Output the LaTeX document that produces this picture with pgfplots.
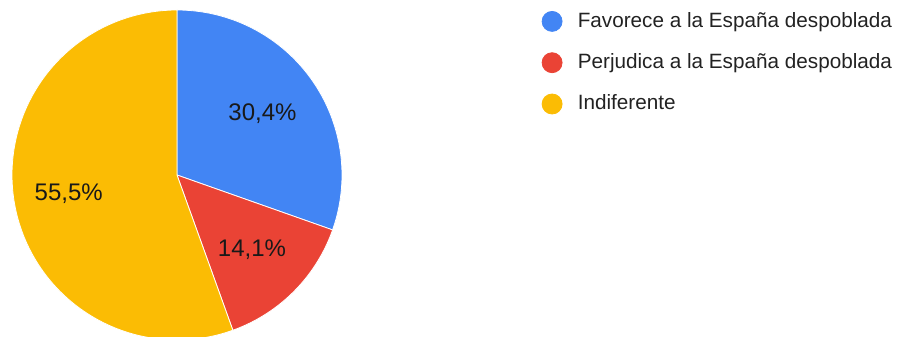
\documentclass[border=0pt]{standalone}
\usepackage{pgfplots}
\pgfplotsset{compat=1.18}
\usepackage{fontspec}
\setmainfont{Liberation Sans}
\definecolor{pieblue}{HTML}{4285F4}
\definecolor{piered}{HTML}{EA4335}
\definecolor{pieyellow}{HTML}{FBBC04}
\definecolor{legtext}{HTML}{222222}
\begin{document}
\begin{tikzpicture}
% shares (%)
\def\valA{30.4}\def\valB{14.1}\def\valC{55.5}
\pgfmathsetmacro{\aA}{90}
\pgfmathsetmacro{\aB}{90-3.6*\valA}
\pgfmathsetmacro{\aC}{\aB-3.6*\valB}
\pgfmathsetmacro{\aD}{\aC-3.6*\valC}
\begin{axis}[at={(0,0)}, anchor=south west, scale only axis,
  width=898pt, height=337pt, xmin=0, xmax=898, ymin=0, ymax=337,
  hide axis, clip=true,
  legend cell align=left,
  legend style={at={(axis cs:541.7,326)}, anchor=north west, draw=none, fill=none,
    inner sep=0pt, outer sep=0pt, row sep=20.5pt, column sep=15.3pt,
    font=\fontsize{20.7}{24}\selectfont, text=legtext,
    nodes={inner sep=0pt, text height=14pt, text depth=4pt}}]
\addplot[fill=pieblue, draw=white, line width=0.8pt, domain=\aB:\aA, samples=120, variable=\t,
  legend image code/.code={\fill[pieblue] (10pt,1pt) circle (10pt);}]
  ({177+165*cos(t)},{162+165*sin(t)}) -- (axis cs:177,162) -- cycle;
\addlegendentry{Favorece a la España despoblada}
\addplot[fill=piered, draw=white, line width=0.8pt, domain=\aC:\aB, samples=80, variable=\t,
  legend image code/.code={\fill[piered] (10pt,1pt) circle (10pt);}]
  ({177+165*cos(t)},{162+165*sin(t)}) -- (axis cs:177,162) -- cycle;
\addlegendentry{Perjudica a la España despoblada}
\addplot[fill=pieyellow, draw=white, line width=0.8pt, domain=\aD:\aC, samples=200, variable=\t,
  legend image code/.code={\fill[pieyellow] (10pt,1pt) circle (10pt);}]
  ({177+165*cos(t)},{162+165*sin(t)}) -- (axis cs:177,162) -- cycle;
\addlegendentry{Indiferente}
\node[font=\fontsize{24}{28}\selectfont, text=black!90] at (axis cs:262.5,223.3) {30,4\%};
\node[font=\fontsize{24}{28}\selectfont, text=black!90] at (axis cs:252,87) {14,1\%};
\node[font=\fontsize{24}{28}\selectfont, text=black!90] at (axis cs:68.7,143.7) {55,5\%};
\end{axis}
\pgfresetboundingbox
\path (0,0) rectangle (898pt,337pt);
\end{tikzpicture}
\end{document}
